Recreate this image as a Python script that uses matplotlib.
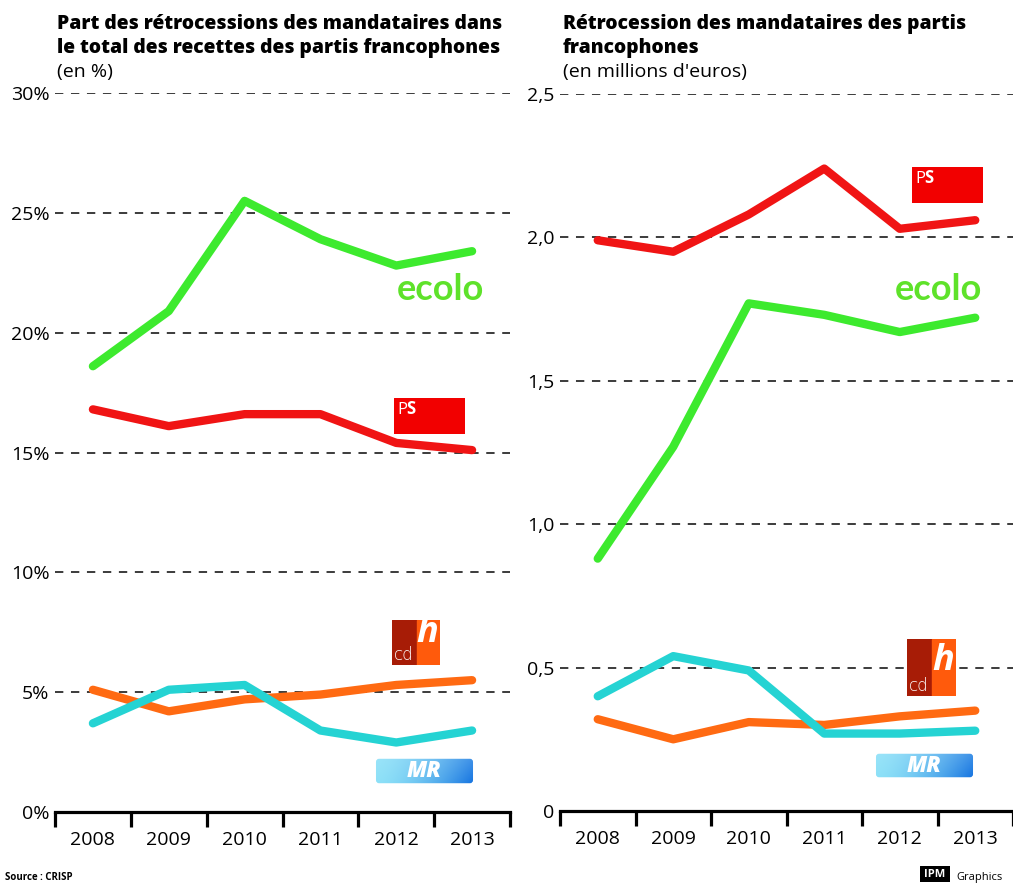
import matplotlib.pyplot as plt
import numpy as np
from matplotlib.patches import Rectangle, FancyBboxPatch

plt.rcParams['font.family'] = ['Open Sans', 'DejaVu Sans']
plt.rcParams['lines.scale_dashes'] = False

years = ['2008', '2009', '2010', '2011', '2012', '2013']

# share of the mandataries' retrocessions in total party income (%)
pct_ecolo = [18.6, 20.9, 25.5, 23.9, 22.8, 23.4]
pct_ps = [16.8, 16.1, 16.6, 16.6, 15.4, 15.1]
pct_cdh = [5.1, 4.2, 4.7, 4.9, 5.3, 5.5]
pct_mr = [3.7, 5.1, 5.3, 3.4, 2.9, 3.4]

# retrocessions in millions of euros
mio_ps = [1.99, 1.95, 2.08, 2.24, 2.03, 2.06]
mio_ecolo = [0.88, 1.27, 1.77, 1.73, 1.67, 1.72]
mio_mr = [0.40, 0.54, 0.49, 0.27, 0.27, 0.28]
mio_cdh = [0.32, 0.25, 0.31, 0.30, 0.33, 0.35]

left_ticks = [0, 5, 10, 15, 20, 25, 30]
left_labels = ['0%', '5%', '10%', '15%', '20%', '25%', '30%']
right_ticks = [0, 0.5, 1.0, 1.5, 2.0, 2.5]
right_labels = ['0', '0,5', '1,0', '1,5', '2,0', '2,5']

GREEN = '#3dea2e'
RED = '#f01414'
ORANGE = '#ff6a12'
CYAN = '#25d3d3'

W, H = 1013, 885
fig = plt.figure(figsize=(W / 100, H / 100), dpi=100)


def box(x0, y0, x1, y1):
    return [x0 / W, 1 - y1 / H, (x1 - x0) / W, (y1 - y0) / H]


def panel(rect, series, ticks, labels):
    ax = fig.add_axes(rect)
    x = np.arange(len(years)) + 0.5
    for t in ticks[1:]:
        ax.axhline(t, color='#1a1a1a', lw=1.2, dashes=(6, 5.5), zorder=1)
    for vals, c in series:
        ax.plot(x, vals, color=c, lw=6, solid_capstyle='round',
                solid_joinstyle='round', clip_on=False, zorder=3)
    ax.set_xlim(0, len(years))
    ax.set_ylim(ticks[0], ticks[-1])
    ax.set_yticks(ticks, labels)
    ax.set_xticks(range(len(years) + 1))
    ax.set_xticklabels([])
    ax.set_xticks(x, minor=True)
    ax.set_xticklabels(years, minor=True)
    ax.tick_params(axis='x', which='major', length=11, width=2.3, direction='out')
    ax.tick_params(axis='x', which='minor', length=0, pad=14, labelsize=14)
    ax.tick_params(axis='y', length=0, pad=4, labelsize=14)
    for s in ['top', 'right', 'left']:
        ax.spines[s].set_visible(False)
    ax.spines['bottom'].set_linewidth(2.3)
    ax.patch.set_alpha(0)
    return ax


def logo_axes(x0, y0, x1, y1):
    a = fig.add_axes(box(x0, y0, x1, y1))
    a.axis('off')
    a.set_xlim(0, 1)
    a.set_ylim(0, 1)
    return a


def ps_logo(x0, y0, x1, y1):
    a = logo_axes(x0, y0, x1, y1)
    a.add_patch(Rectangle((0, 0), 1, 1, color='#f20000'))
    a.text(0.05, 0.55, 'P', color='white', fontsize=12, va='baseline', ha='left')
    a.text(0.17, 0.55, 'S', color='white', fontsize=12, weight='bold', va='baseline', ha='left')


def ecolo_logo(xc, yc):
    fig.text(xc / W, 1 - yc / H, 'ecolo', color='#5ee22a', fontsize=26,
             weight='bold', family='Lato', ha='center', va='center')


def cdh_logo(x0, y0, x1, y1):
    a = logo_axes(x0, y0, x1, y1)
    a.add_patch(Rectangle((0, 0), 0.52, 1, color='#a71c06'))
    a.add_patch(Rectangle((0.52, 0), 0.48, 1, color='#ff5a0c'))
    a.text(0.03, 0.02, 'cd', color='white', fontsize=12, family='DejaVu Sans',
           weight='light', va='bottom', ha='left')
    a.text(0.74, 0.3, 'h', color='white', fontsize=26, style='italic',
           weight='bold', va='bottom', ha='center')


def mr_logo(x0, y0, x1, y1):
    a = logo_axes(x0, y0, x1, y1)
    gx = np.linspace(0, 1, 120)[None, :, None]
    gy = np.linspace(0, 1, 30)[:, None, None]
    left = np.array([0.55, 0.88, 0.97])
    right = np.array([0.08, 0.45, 0.88])
    img = left + (right - left) * gx ** 1.6
    img = img * (1 - 0.25 * gy) + 0.25 * gy * np.array([0.75, 0.93, 0.99])
    img = np.clip(img, 0, 1)
    im = a.imshow(img, extent=(0, 1, 0, 1), aspect='auto', origin='lower')
    patch = FancyBboxPatch((0.01, 0.03), 0.98, 0.94,
                           boxstyle='round,pad=0,rounding_size=0.03',
                           mutation_aspect=4, fc='none', ec='none')
    a.add_patch(patch)
    im.set_clip_path(patch)
    a.text(0.5, 0.5, 'MR', color='white', weight='heavy', style='italic',
           fontsize=16, ha='center', va='center')


# left panel
panel(box(55, 93, 510, 812),
      [(pct_ecolo, GREEN), (pct_ps, RED), (pct_cdh, ORANGE), (pct_mr, CYAN)],
      left_ticks, left_labels)
# right panel
panel(box(560, 94, 1013, 811),
      [(mio_ps, RED), (mio_ecolo, GREEN), (mio_cdh, ORANGE), (mio_mr, CYAN)],
      right_ticks, right_labels)

# titles
tsize = 13.9
fig.text(57 / W, 1 - 29 / H, 'Part des rétrocessions des mandataires dans',
         fontsize=tsize, weight=800, va='baseline')
fig.text(57 / W, 1 - 53 / H, 'le total des recettes des partis francophones',
         fontsize=tsize, weight=800, va='baseline')
fig.text(57 / W, 1 - 77 / H, '(en %)', fontsize=14, va='baseline')
fig.text(563 / W, 1 - 29 / H, 'Rétrocession des mandataires des partis',
         fontsize=tsize, weight=800, va='baseline')
fig.text(563 / W, 1 - 53 / H, 'francophones',
         fontsize=tsize, weight=800, va='baseline')
fig.text(563 / W, 1 - 77 / H, "(en millions d'euros)", fontsize=14, va='baseline')

# logos
ecolo_logo(440, 289)
ps_logo(394, 398, 465, 434)
cdh_logo(392, 620, 440, 665)
mr_logo(375, 758, 474, 784)

ps_logo(912, 167, 983, 203)
ecolo_logo(938, 289)
cdh_logo(907, 639, 956, 696)
mr_logo(875, 753, 974, 778)

# footer
fig.text(5 / W, 1 - 880 / H, 'Source : CRISP', fontsize=7, weight='bold', va='baseline')
fa = logo_axes(920, 866, 950, 882)
fa.add_patch(Rectangle((0, 0), 1, 1, color='black'))
fa.text(0.5, 0.45, 'IPM', color='white', fontsize=8, weight='bold', ha='center', va='center')
fig.text(956 / W, 1 - 880 / H, 'Graphics', fontsize=8, va='baseline')

fig.savefig('out.png', dpi=100)
